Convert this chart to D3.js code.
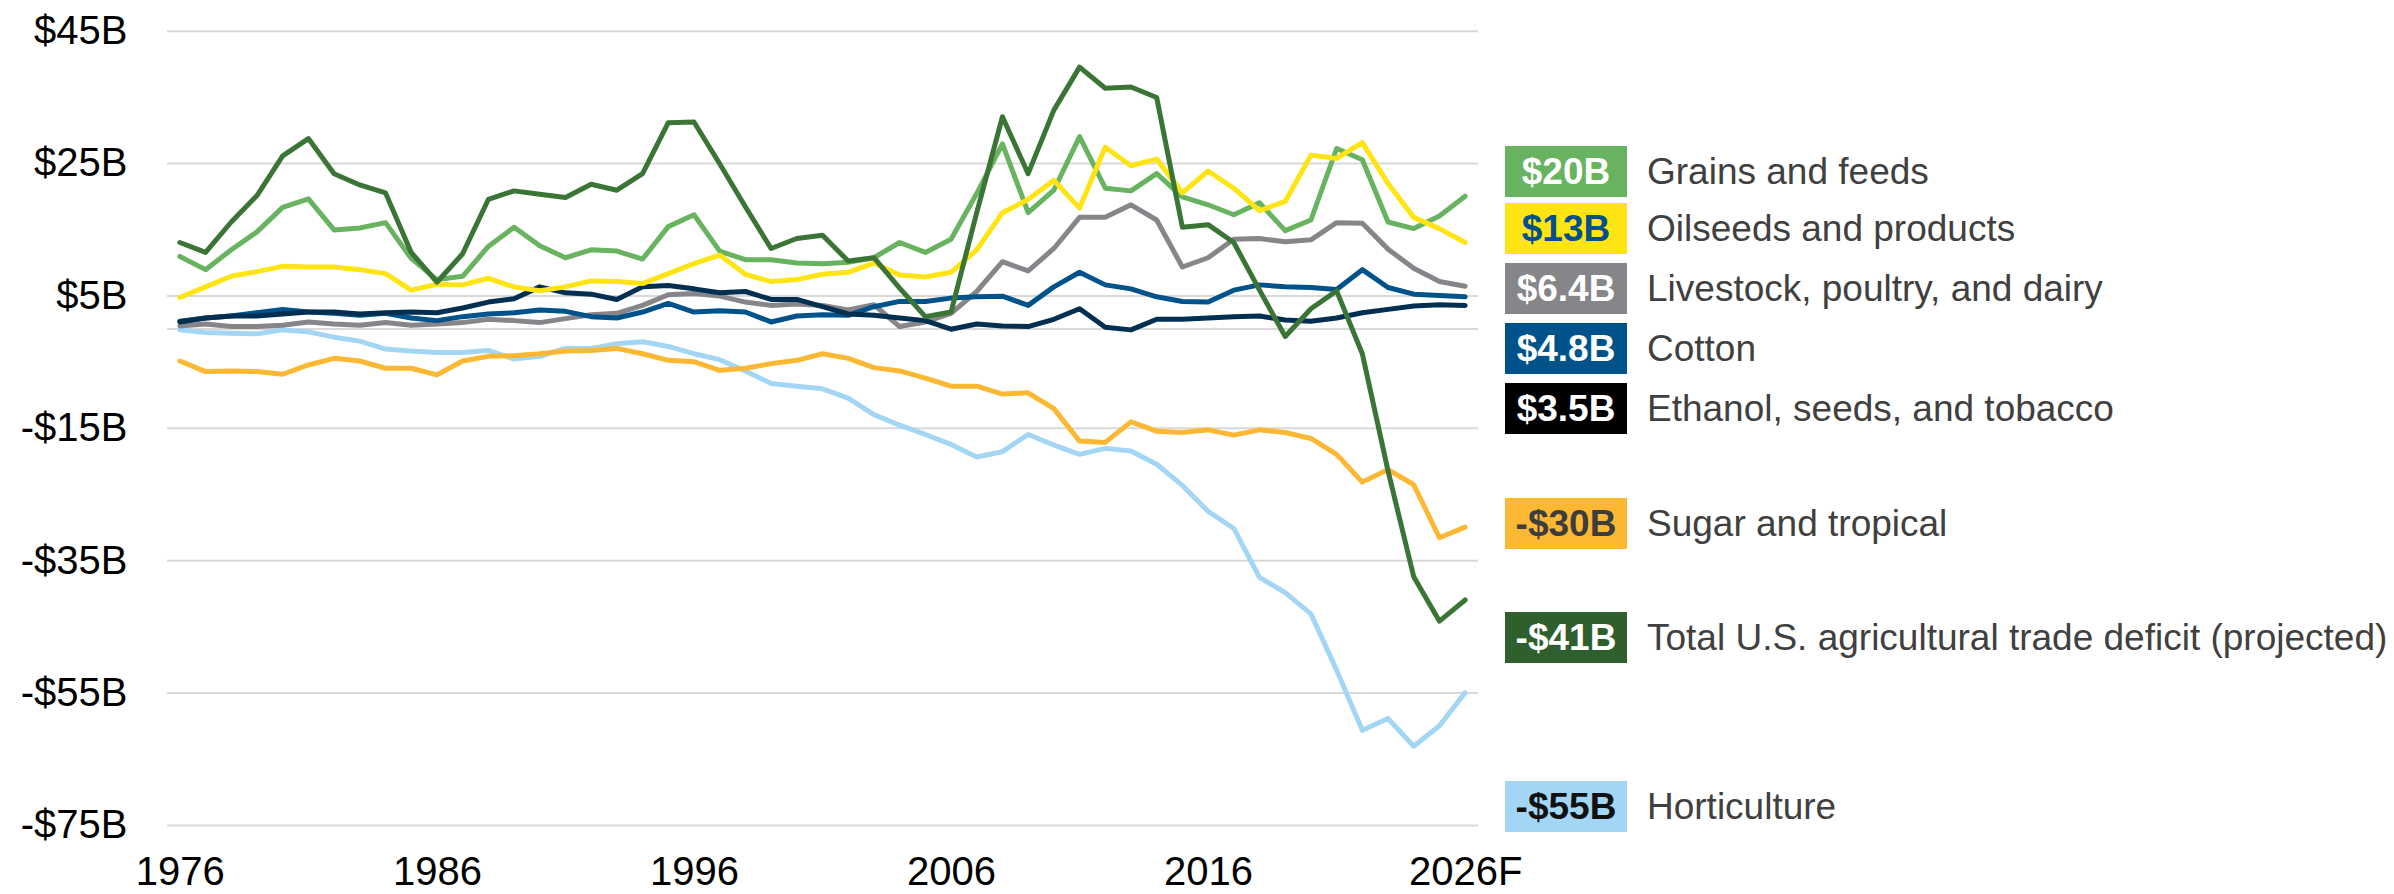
<!DOCTYPE html>
<html>
<head>
<meta charset="utf-8">
<script src="https://cdn.jsdelivr.net/npm/d3@7/dist/d3.min.js"></script>
<style>
  body { margin: 0; background: #fff; }
  svg { display: block; }
  text { font-family: "Liberation Sans", Arial, Helvetica, sans-serif; }
</style>
</head>
<body>
<svg id="chart" width="2394" height="894"></svg>
<script>
// U.S. agricultural trade balance by product group, $ billions, 1976–2026F
const years = [1976,1977,1978,1979,1980,1981,1982,1983,1984,1985,1986,1987,1988,1989,1990,1991,1992,
  1993,1994,1995,1996,1997,1998,1999,2000,2001,2002,2003,2004,2005,2006,2007,2008,2009,
  2010,2011,2012,2013,2014,2015,2016,2017,2018,2019,2020,2021,2022,2023,2024,2025,2026];

const tickYears  = [1976, 1986, 1996, 2006, 2016, 2026];
const tickLabels = ["1976", "1986", "1996", "2006", "2016", "2026F"];
const yTicks     = [45, 25, 5, -15, -35, -55, -75];
const yTickText  = ["$45B", "$25B", "$5B", "-$15B", "-$35B", "-$55B", "-$75B"];
const gridValues = [45, 25, 5, 0, -15, -35, -55, -75];

const horticulture = [-0.2,-0.6,-0.7,-0.8,-0.2,-0.5,-1.3,-1.9,-3.1,-3.4,-3.6,-3.6,-3.3,-4.6,-4.2,-3.0,-3.0,
  -2.3,-2.0,-2.7,-3.8,-4.7,-6.4,-8.3,-8.7,-9.1,-10.5,-13.0,-14.6,-16.0,-17.5,-19.4,-18.6,-16.0,
  -17.6,-19.0,-18.1,-18.5,-20.5,-23.7,-27.6,-30.2,-37.6,-39.9,-43.1,-51.6,-60.7,-58.9,-63.1,-60.0,-55];

const sugarTropical = [-4.9,-6.5,-6.4,-6.5,-6.9,-5.5,-4.5,-4.9,-6.0,-6.0,-7.0,-4.9,-4.2,-4.1,-3.8,-3.4,-3.3,
  -3.0,-3.8,-4.8,-5.0,-6.3,-6.0,-5.3,-4.8,-3.8,-4.5,-5.9,-6.4,-7.5,-8.7,-8.7,-9.9,-9.7,
  -12.1,-17.0,-17.2,-14.1,-15.5,-15.7,-15.3,-16.1,-15.3,-15.7,-16.6,-19.0,-23.2,-21.3,-23.6,-31.6,-30];

const livestock = [0.4,0.7,0.3,0.3,0.5,1.0,0.7,0.5,0.9,0.5,0.7,0.9,1.4,1.2,0.9,1.5,2.1,
  2.3,3.5,5.1,5.3,4.9,4.0,3.5,3.7,3.5,2.8,3.6,0.3,1.0,2.3,5.6,10.1,8.7,
  12.1,16.8,16.8,18.7,16.4,9.3,10.7,13.5,13.6,13.1,13.4,16.0,15.9,12.0,9.1,7.1,6.4];

const cotton = [1.1,1.6,1.9,2.4,2.9,2.5,2.3,2.0,2.3,1.6,1.2,1.8,2.2,2.4,2.8,2.6,1.8,
  1.6,2.5,3.8,2.5,2.7,2.5,1.0,1.9,2.1,2.0,3.3,4.1,4.1,4.6,4.8,4.9,3.5,
  6.3,8.5,6.6,6.0,4.8,4.1,4.0,5.8,6.6,6.3,6.2,5.9,8.9,6.2,5.2,5.0,4.8];

const ethanolSeedsTobacco = [1.0,1.6,1.9,1.9,2.2,2.5,2.5,2.2,2.4,2.5,2.4,3.1,4.0,4.5,6.3,5.4,5.2,
  4.4,6.3,6.5,6.0,5.4,5.6,4.4,4.4,3.3,2.2,2.0,1.6,1.2,-0.1,0.7,0.4,0.3,
  1.4,3.0,0.2,-0.2,1.4,1.4,1.6,1.8,1.9,1.3,1.1,1.6,2.4,2.9,3.4,3.6,3.5];

const grainsFeeds = [10.9,8.9,11.9,14.6,18.3,19.6,14.9,15.2,16.0,10.6,7.4,7.9,12.4,15.3,12.5,10.7,11.9,
  11.7,10.5,15.4,17.2,11.7,10.4,10.4,9.9,9.8,10.0,10.7,13.0,11.5,13.5,20.4,27.9,17.5,
  20.9,29.0,21.2,20.8,23.4,19.9,18.7,17.2,19.0,14.8,16.4,27.2,25.5,16.1,15.1,17.0,20];

const oilseeds = [4.7,6.3,7.9,8.6,9.4,9.3,9.3,8.9,8.3,5.8,6.7,6.6,7.6,6.3,5.7,6.3,7.2,
  7.1,6.8,8.3,9.8,11.1,8.2,7.1,7.4,8.2,8.5,9.9,8.1,7.8,8.5,11.9,17.5,19.5,
  22.4,18.2,27.4,24.6,25.6,20.5,23.8,21.2,17.8,19.2,26.2,25.7,28.1,21.9,16.8,15.1,13];

const total = [13.0,11.5,16.1,20.1,26.1,28.7,23.4,21.7,20.5,11.5,7.0,11.3,19.5,20.8,20.3,19.8,21.8,
  20.9,23.4,31.1,31.2,24.9,18.4,12.1,13.6,14.1,10.2,10.7,6.1,1.8,2.5,17.5,32.0,23.4,
  33.0,39.5,36.3,36.5,34.9,15.3,15.7,13.0,5.8,-1.2,3.0,5.7,-3.8,-21.5,-37.5,-44.2,-41];

// Series in drawing order (later ones sit on top)
const series = [
  { key: "Horticulture", values: horticulture, color: "#A3D6F4" },
  { key: "Sugar and tropical", values: sugarTropical, color: "#FDB833" },
  { key: "Livestock, poultry, and dairy", values: livestock, color: "#86858A" },
  { key: "Cotton", values: cotton, color: "#00538A" },
  { key: "Ethanol, seeds, and tobacco", values: ethanolSeedsTobacco, color: "#002F52" },
  { key: "Grains and feeds", values: grainsFeeds, color: "#67B35F" },
  { key: "Oilseeds and products", values: oilseeds, color: "#FFE414" },
  { key: "Total U.S. agricultural trade deficit (projected)", values: total, color: "#3B7536" }
];

// Legend: 2026F value tags, top to bottom
const legendNames = ["Grains and feeds", "Oilseeds and products", "Livestock, poultry, and dairy",
  "Cotton", "Ethanol, seeds, and tobacco", "Sugar and tropical",
  "Total U.S. agricultural trade deficit (projected)", "Horticulture"];
const legendValues = ["$20B", "$13B", "$6.4B", "$4.8B", "$3.5B", "-$30B", "-$41B", "-$55B"];
const legendBoxColors = ["#67B35F", "#FFE414", "#86858A", "#00538A", "#000000", "#FDB833", "#2F5F2C", "#A3D6F4"];
const legendTextColors = ["#FFFFFF", "#00508C", "#FFFFFF", "#FFFFFF", "#FFFFFF", "#3D3D3D", "#FFFFFF", "#111111"];
const legendRowY = [171.5, 228.5, 288.5, 348.5, 408.5, 523.5, 637.5, 806.5];

const svg = d3.select("#chart");
const plotLeft = 167, plotRight = 1478, plotTop = 30.7, plotBottom = 825;

const x = d3.scalePoint().domain(years).range([plotLeft, plotRight]).padding(0.5);
const y = d3.scaleLinear().domain([-75, 45]).range([plotBottom, plotTop]);

// Horizontal gridlines
svg.append("g")
  .attr("transform", `translate(${plotLeft},0)`)
  .call(d3.axisLeft(y).tickValues(gridValues).tickSize(-(plotRight - plotLeft)).tickFormat(""))
  .call(g => g.select(".domain").remove())
  .call(g => g.selectAll("line").attr("stroke", "#D9D9D9").attr("stroke-width", 2));

// Y axis labels
svg.append("g")
  .attr("transform", `translate(${plotLeft},0)`)
  .call(d3.axisLeft(y).tickValues(yTicks).tickSize(0).tickPadding(39.5)
    .tickFormat(d => yTickText[yTicks.indexOf(d)]))
  .call(g => g.select(".domain").remove())
  .call(g => g.selectAll("text")
    .attr("font-size", 40).attr("fill", "#000")
    .attr("font-family", '"Liberation Sans", Arial, sans-serif'));

// X axis labels
svg.append("g")
  .attr("transform", `translate(0,${plotBottom})`)
  .call(d3.axisBottom(x).tickValues(tickYears).tickSize(0).tickPadding(31.5)
    .tickFormat(d => tickLabels[tickYears.indexOf(d)]))
  .call(g => g.select(".domain").remove())
  .call(g => g.selectAll("text")
    .attr("font-size", 40).attr("fill", "#000")
    .attr("font-family", '"Liberation Sans", Arial, sans-serif'));

// Lines
const line = d3.line()
  .x((d, i) => x(years[i]))
  .y(d => y(d));

svg.append("g")
  .selectAll("path")
  .data(series)
  .join("path")
  .attr("d", d => line(d.values))
  .attr("fill", "none")
  .attr("stroke", d => d.color)
  .attr("stroke-width", 5)
  .attr("stroke-linejoin", "round")
  .attr("stroke-linecap", "round");

// Legend tags
const boxX = 1505, boxW = 122, boxH = 51, labelX = 1647;
const legend = svg.append("g")
  .selectAll("g")
  .data(legendNames)
  .join("g")
  .attr("transform", (d, i) => `translate(0,${legendRowY[i]})`);

legend.append("rect")
  .attr("x", boxX).attr("y", -boxH / 2)
  .attr("width", boxW).attr("height", boxH)
  .attr("fill", (d, i) => legendBoxColors[i]);

legend.append("text")
  .attr("x", boxX + boxW / 2).attr("y", 0).attr("dy", "0.35em")
  .attr("text-anchor", "middle")
  .attr("font-size", 37).attr("font-weight", "bold")
  .attr("fill", (d, i) => legendTextColors[i])
  .text((d, i) => legendValues[i]);

legend.append("text")
  .attr("x", labelX).attr("y", 0).attr("dy", "0.35em")
  .attr("font-size", 37)
  .attr("fill", "#404040")
  .text(d => d);
</script>
</body>
</html>
